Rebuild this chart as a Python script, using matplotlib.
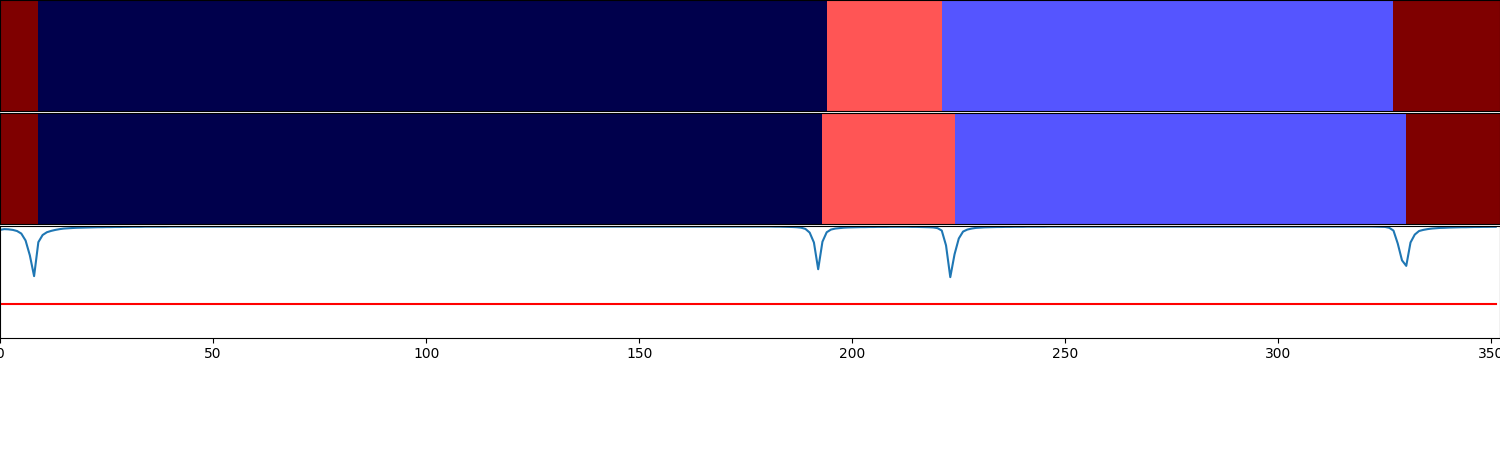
import numpy as np
import matplotlib
matplotlib.use("Agg")
import matplotlib.pyplot as plt

# Segment labels (class id) and segment end positions for the two bars
true_labels = [3, 0, 2, 1, 3]
true_ends = [9, 194, 221, 327, 352]
pred_labels = [3, 0, 2, 1, 3]
pred_ends = [9, 193, 224, 330, 352]

threshold = 0.3

prob = [
    0.966, 0.973, 0.971, 0.966, 0.956, 0.933, 0.871, 0.738, 0.551, 0.856,
    0.920, 0.945, 0.957, 0.966, 0.973, 0.978, 0.981, 0.983, 0.985, 0.986,
    0.987, 0.988, 0.989, 0.990, 0.990, 0.991, 0.991, 0.992, 0.992, 0.993,
    0.993, 0.994, 0.994, 0.994, 0.995, 0.995, 0.995, 0.995, 0.995, 0.995,
    0.996, 0.996, 0.996, 0.996, 0.996, 0.996, 0.996, 0.996, 0.996, 0.996,
    0.996, 0.996, 0.996, 0.996, 0.996, 0.996, 0.996, 0.996, 0.996, 0.996,
    0.996, 0.996, 0.996, 0.996, 0.996, 0.996, 0.996, 0.996, 0.996, 0.996,
    0.996, 0.996, 0.996, 0.996, 0.996, 0.996, 0.996, 0.996, 0.996, 0.996,
    0.996, 0.996, 0.996, 0.996, 0.996, 0.996, 0.996, 0.996, 0.996, 0.996,
    0.996, 0.996, 0.996, 0.996, 0.996, 0.996, 0.996, 0.996, 0.996, 0.996,
    0.996, 0.996, 0.996, 0.996, 0.996, 0.996, 0.996, 0.996, 0.996, 0.996,
    0.996, 0.996, 0.996, 0.996, 0.996, 0.996, 0.996, 0.996, 0.996, 0.996,
    0.996, 0.996, 0.996, 0.996, 0.996, 0.996, 0.996, 0.996, 0.996, 0.996,
    0.996, 0.996, 0.996, 0.996, 0.996, 0.996, 0.996, 0.996, 0.996, 0.996,
    0.996, 0.996, 0.996, 0.996, 0.996, 0.996, 0.996, 0.996, 0.996, 0.996,
    0.996, 0.996, 0.996, 0.996, 0.996, 0.996, 0.996, 0.996, 0.996, 0.996,
    0.996, 0.996, 0.996, 0.996, 0.996, 0.996, 0.996, 0.996, 0.996, 0.996,
    0.996, 0.996, 0.996, 0.996, 0.996, 0.996, 0.996, 0.996, 0.996, 0.996,
    0.996, 0.996, 0.995, 0.995, 0.994, 0.993, 0.992, 0.990, 0.986, 0.975,
    0.942, 0.853, 0.613, 0.860, 0.945, 0.969, 0.978, 0.982, 0.986, 0.988,
    0.989, 0.990, 0.991, 0.991, 0.992, 0.992, 0.993, 0.993, 0.993, 0.994,
    0.994, 0.994, 0.994, 0.994, 0.993, 0.993, 0.992, 0.991, 0.990, 0.988,
    0.982, 0.960, 0.827, 0.542, 0.747, 0.889, 0.951, 0.969, 0.978, 0.984,
    0.987, 0.989, 0.990, 0.991, 0.992, 0.992, 0.993, 0.993, 0.994, 0.994,
    0.994, 0.995, 0.995, 0.995, 0.995, 0.995, 0.996, 0.996, 0.996, 0.996,
    0.996, 0.996, 0.996, 0.996, 0.996, 0.996, 0.996, 0.996, 0.996, 0.996,
    0.996, 0.996, 0.996, 0.996, 0.996, 0.996, 0.996, 0.996, 0.996, 0.996,
    0.996, 0.996, 0.996, 0.996, 0.996, 0.996, 0.996, 0.996, 0.996, 0.996,
    0.996, 0.996, 0.996, 0.996, 0.996, 0.996, 0.996, 0.996, 0.996, 0.996,
    0.996, 0.996, 0.996, 0.996, 0.996, 0.996, 0.996, 0.996, 0.996, 0.996,
    0.996, 0.996, 0.996, 0.996, 0.996, 0.996, 0.996, 0.996, 0.996, 0.996,
    0.996, 0.996, 0.996, 0.996, 0.996, 0.996, 0.996, 0.996, 0.996, 0.996,
    0.996, 0.996, 0.996, 0.995, 0.994, 0.993, 0.985, 0.960, 0.844, 0.693,
    0.643, 0.853, 0.924, 0.956, 0.966, 0.973, 0.978, 0.981, 0.984, 0.985,
    0.987, 0.988, 0.989, 0.990, 0.990, 0.991, 0.992, 0.992, 0.993, 0.993,
    0.994, 0.994,
]


def segments_to_row(labels, ends):
    starts = [0] + ends[:-1]
    lengths = [e - s for s, e in zip(starts, ends)]
    return np.repeat(labels, lengths)[None, :]


n = len(prob)
fig, axes = plt.subplots(3, 1, figsize=(15, 4.5), dpi=100, sharex=True)
fig.subplots_adjust(left=0, right=1, top=1, bottom=0.25, hspace=0.015)

for ax, (labels, ends) in zip(axes[:2], [(true_labels, true_ends), (pred_labels, pred_ends)]):
    row = segments_to_row(labels, ends)
    ax.imshow(row, aspect="auto", cmap="seismic", vmin=0, vmax=3,
              interpolation="nearest", extent=(0, row.shape[1], 0, 1))
    ax.set_yticks([])
    ax.tick_params(axis="x", bottom=False, labelbottom=False)

ax = axes[2]
x = np.arange(n)
ax.plot(x, prob, color="#1f77b4", lw=1.5)
ax.plot(x, [threshold] * n, color="red", lw=1.5)
ax.set_ylim(0, 1)
ax.set_xlim(0, n)
ax.set_yticks([])

fig.savefig("out.png")
